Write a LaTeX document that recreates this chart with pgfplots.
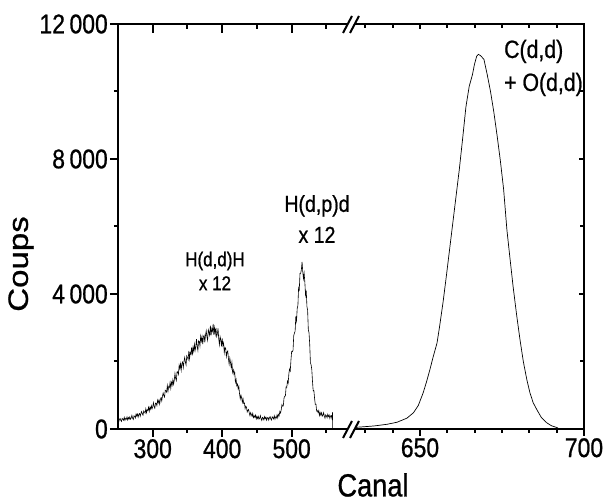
\documentclass[border=0pt]{standalone}
\usepackage{fontspec}
\setmainfont[FakeStretch=0.85, FakeBold=0.8]{Liberation Sans}
\newfontfamily\rotfont[FakeStretch=1.18, FakeBold=0.8]{Liberation Sans}
\usepackage{pgfplots}
\usepackage{pgfplotstable}
\pgfplotsset{compat=1.18}

% H(d,d)H and H(d,p)d region (x 12)
\pgfplotstableread{
ch cts
250 280
251 215
252 278
253 312
254 258
255 224
256 313
257 289
258 261
259 344
260 258
261 314
262 291
263 353
264 267
265 339
266 295
267 356
268 291
269 326
270 402
271 321
272 282
273 388
274 379
275 330
276 442
277 386
278 442
279 351
280 440
281 457
282 378
283 464
284 516
285 449
286 408
287 534
288 507
289 473
290 595
291 480
292 571
293 546
294 646
295 527
296 644
297 585
298 690
299 596
300 660
301 778
302 666
303 614
304 767
305 758
306 694
307 852
308 779
309 858
310 738
311 882
312 925
313 830
314 972
315 1067
316 987
317 945
318 1148
319 1128
320 1095
321 1288
322 1120
323 1260
324 1227
325 1380
326 1206
327 1385
328 1302
329 1459
330 1326
331 1445
332 1642
333 1496
334 1435
335 1692
336 1697
337 1619
338 1886
339 1791
340 1934
341 1747
342 1943
343 1983
344 1819
345 2004
346 2118
347 1980
348 1900
349 2165
350 2115
351 2054
352 2313
353 2083
354 2266
355 2219
356 2421
357 2183
358 2420
359 2306
360 2512
361 2325
362 2444
363 2662
364 2439
365 2330
366 2614
367 2587
368 2460
369 2747
370 2603
371 2741
372 2512
373 2734
374 2773
375 2570
376 2781
377 2907
378 2735
379 2632
380 2937
381 2865
382 2774
383 3061
384 2772
385 2969
386 2896
387 3112
388 2786
389 3000
390 2818
391 2996
392 2742
393 2810
394 2980
395 2678
396 2500
397 2736
398 2644
399 2452
400 2682
401 2474
402 2548
403 2263
404 2418
405 2393
406 2149
407 2281
408 2313
409 2084
410 1920
411 2099
412 1965
413 1818
414 1971
415 1673
416 1751
417 1623
418 1688
419 1388
420 1472
421 1282
422 1331
423 1190
424 1262
425 1036
426 894
427 1001
428 924
429 790
430 898
431 757
432 773
433 607
434 673
435 645
436 505
437 555
438 576
439 470
440 397
441 486
442 427
443 375
444 462
445 339
446 391
447 347
448 411
449 299
450 373
451 312
452 372
453 292
454 325
455 395
456 302
457 253
458 344
459 325
460 269
461 364
462 306
463 348
464 261
465 333
466 339
467 264
468 330
469 366
470 302
471 264
472 361
473 334
474 300
475 393
476 293
477 356
478 328
479 416
480 329
481 433
482 393
483 520
484 475
485 570
486 718
487 676
488 684
489 916
490 970
491 975
492 1250
493 1238
494 1423
495 1360
496 1640
497 1780
498 1722
499 2042
500 2298
501 2289
502 2335
503 2764
504 2843
505 2897
506 3335
507 3200
508 3576
509 3660
510 4187
511 4129
512 4610
513 4613
514 4725
515 4950
516 4657
517 4452
518 4613
519 4343
520 3963
521 4096
522 3630
523 3516
524 2939
525 2850
526 2515
527 1964
528 1903
529 1757
530 1412
531 1133
532 1140
533 910
534 730
535 734
536 529
537 543
538 485
539 546
540 401
541 485
542 412
543 478
544 380
545 410
546 483
547 378
548 320
549 418
550 393
551 333
552 434
553 368
554 410
555 313
556 389
557 396
558 313
559 500
559 0
}\hyd

% C(d,d) + O(d,d)
\pgfplotstableread{
ch cts
628.7 40
632 60
636 90
640 140
643 200
646 320
648 480
649.5 700
651 1080
652 1400
653 1750
654 2130
655.2 2550
656 3050
657 3730
658 4500
659 5300
660 6100
661 6900
662 7700
663 8600
664 9540
665 10150
666 10500
666.6 10800
667.3 11050
667.8 11100
668.5 11060
669.5 10950
670.5 10500
671.5 10000
672.5 9400
673.5 8700
674.5 7950
675.5 7100
676.5 5900
677.5 5000
678.4 4210
679.5 3350
680.5 2640
681.5 2000
682.6 1450
683.5 1080
684.5 780
685.7 560
687 340
688.7 180
690 100
691.8 40
692.5 0
}\carb

\pgfplotsset{
  brk/.style={
    scale only axis, height=405pt, ymin=0, ymax=12000,
    anchor=south west, clip=false,
    axis line style={line width=2.6pt, line cap=rect},
    every tick/.style={black, line width=2pt},
    ytick={0,4000,8000,12000}, minor ytick={2000,6000,10000},
    scaled ticks=false,
    ticklabel style={font=\fontsize{27}{27}\selectfont, inner sep=2pt},
    /pgf/number format/assume math mode=true,
  },
  low/.style={brk, axis x line*=bottom, tick align=outside,
    major tick length=7pt, minor tick length=4pt},
  high/.style={brk, axis x line*=top, tick align=inside,
    major tick length=9pt, minor tick length=5pt,
    xticklabels={}, yticklabels={}},
}

\begin{document}
\begin{tikzpicture}[x=1pt,y=1pt]
\path[use as bounding box] (0,0) rectangle (606,502);

% left part of the channel axis
\begin{axis}[low, at={(118pt,73pt)}, width=232pt,
    xmin=250, xmax=584, axis y line*=left,
    xtick={300,400,500}, minor xtick={350,450,550},
    yticklabels={0,4\,000,8\,000,12\,000},
    major tick length=8pt]
  \addplot[black, line width=0.6pt] table[x=ch, y=cts] {\hyd};
\end{axis}
\begin{axis}[high, at={(118pt,73pt)}, width=232pt,
    xmin=250, xmax=584, axis y line=none,
    xtick={300,400,500}, minor xtick={350,450,550}]
\end{axis}

% right part of the channel axis
\begin{axis}[low, at={(350pt,73pt)}, width=234pt,
    xmin=628.667, xmax=700, axis y line=none,
    xtick={650,700},
    minor xtick={633.333,641.667,658.333,666.667,675,683.333,691.667}]
  \addplot[black, line width=0.7pt] table[x=ch, y=cts] {\carb};
\end{axis}
\begin{axis}[high, at={(350pt,73pt)}, width=234pt,
    xmin=628.667, xmax=700, axis y line*=right,
    xtick={650,700},
    minor xtick={633.333,641.667,658.333,666.667,675,683.333,691.667},
    major tick length=5pt, minor tick length=4pt]
\end{axis}

% axis breaks
\foreach \yy in {73,478} {
  \fill[white] (343,\yy-9) -- (350,\yy-9) -- (359,\yy+8) -- (352,\yy+8) -- cycle;
  \draw[line width=2pt] (343,\yy-9) -- (352,\yy+8);
  \draw[line width=2pt] (350,\yy-9) -- (359,\yy+8);
}

% labels
\node[font=\fontsize{32}{32}\selectfont] at (373,17) {Canal};
\node[font=\rotfont\fontsize{28}{28}\selectfont, rotate=90] at (21,238) {Coups};
\node[align=center, font=\fontsize{20}{24}\selectfont] at (215,231) {H(d,d)H\\x 12};
\node[align=center, font=\fontsize{23}{31}\selectfont] at (317,283) {H(d,p)d\\x 12};
\node[align=left, anchor=west, inner sep=0pt, font=\fontsize{25}{33}\selectfont] at (504,434) {C(d,d)\\+ O(d,d)};
\end{tikzpicture}
\end{document}
